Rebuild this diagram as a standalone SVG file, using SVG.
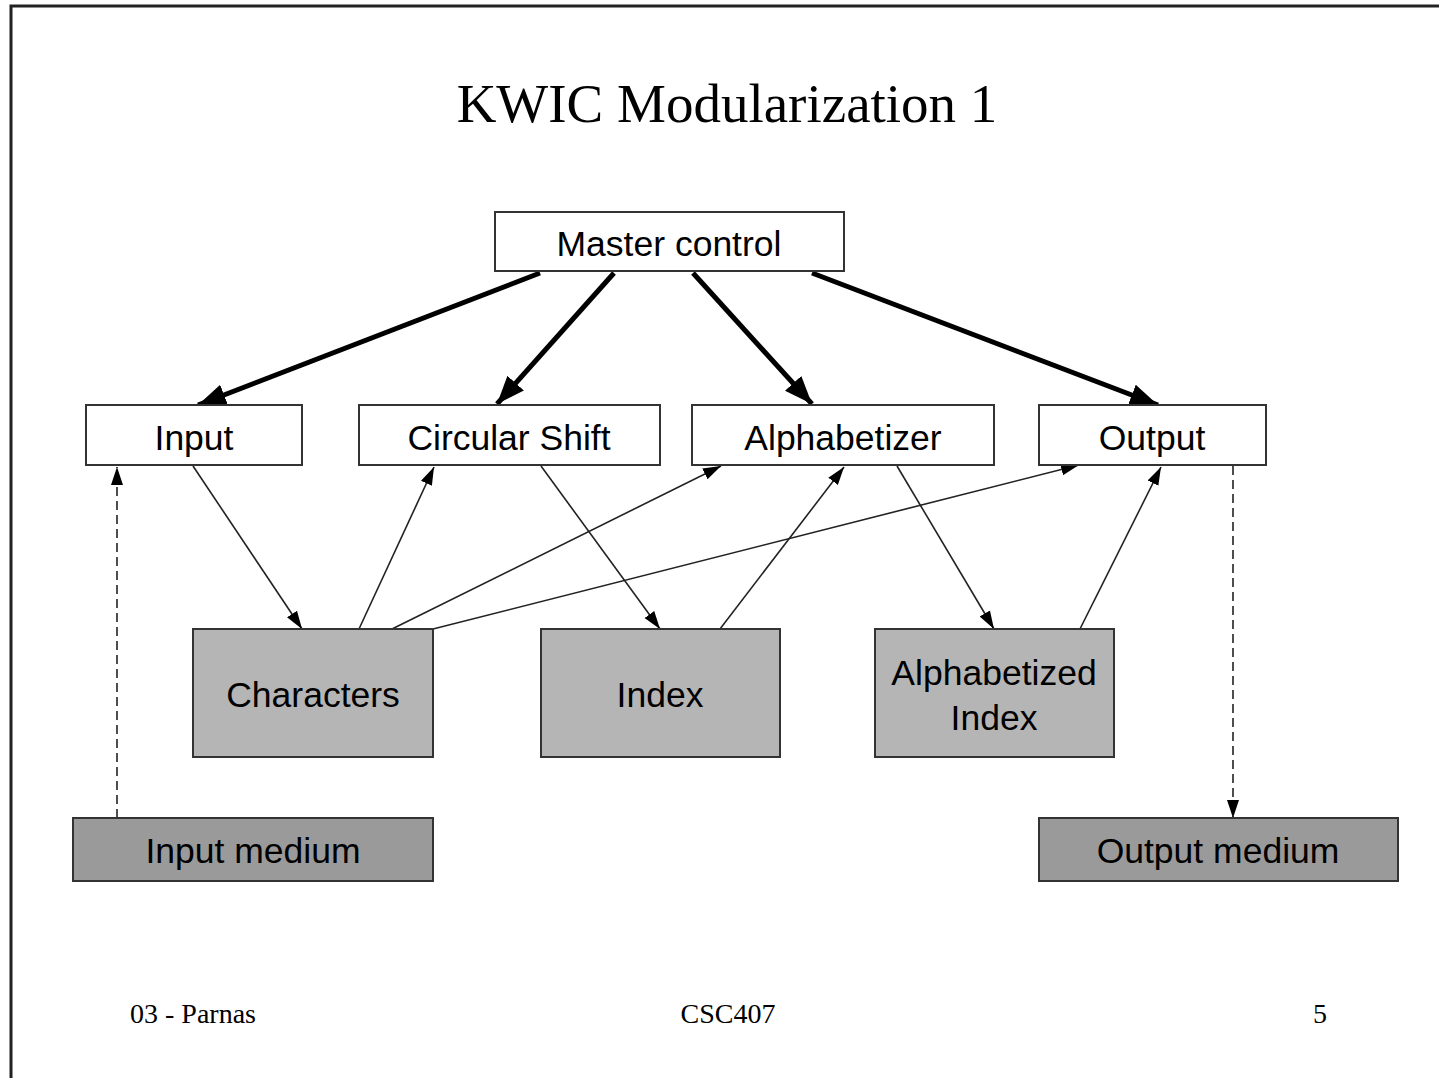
<svg xmlns="http://www.w3.org/2000/svg" width="1439" height="1078" viewBox="0 0 1439 1078">
<style>
.box{stroke:#333;stroke-width:2}
.w{fill:#fff}
.g1{fill:#b5b5b5}
.g2{fill:#9a9a9a}
.lbl{font-family:"Liberation Sans",Arial,sans-serif;font-size:35.5px;fill:#000;text-anchor:middle}
.ser{font-family:"Liberation Serif","Times New Roman",serif;fill:#000;text-anchor:middle}
.thick{stroke:#000;stroke-width:5;fill:none}
.thin{stroke:#222;stroke-width:1.6;fill:none}
.dash{stroke:#222;stroke-width:1.6;fill:none;stroke-dasharray:9,5}
</style>
<defs>
<marker id="big" markerUnits="userSpaceOnUse" markerWidth="30" markerHeight="30" viewBox="0 0 30 30" refX="28" refY="15" orient="auto">
<path d="M0,4 L28,15 L0,26 Z" fill="#000"/>
</marker>
<marker id="sm" markerUnits="userSpaceOnUse" markerWidth="20" markerHeight="16" viewBox="0 0 20 16" refX="18" refY="8" orient="auto">
<path d="M0,2 L18,8 L0,14 Z" fill="#000"/>
</marker>
</defs>
<rect width="1439" height="1078" fill="#fff"/>
<path d="M11,1078 L11,6 L1439,6" fill="none" stroke="#222" stroke-width="3"/>
<text class="ser" x="727" y="122" font-size="55">KWIC Modularization 1</text>

<g id="connectors">
<line class="thick" x1="540" y1="273" x2="198" y2="405" marker-end="url(#big)"/>
<line class="thick" x1="614" y1="273" x2="497" y2="404" marker-end="url(#big)"/>
<line class="thick" x1="693" y1="273" x2="812" y2="404" marker-end="url(#big)"/>
<line class="thick" x1="812" y1="273" x2="1158" y2="405" marker-end="url(#big)"/>
<line class="thin" x1="193" y1="466" x2="302" y2="629" marker-end="url(#sm)"/>
<line class="thin" x1="359" y1="629" x2="434" y2="467" marker-end="url(#sm)"/>
<line class="thin" x1="392" y1="629" x2="721" y2="466" marker-end="url(#sm)"/>
<line class="thin" x1="433" y1="629" x2="1079" y2="465" marker-end="url(#sm)"/>
<line class="thin" x1="541" y1="466" x2="660" y2="629" marker-end="url(#sm)"/>
<line class="thin" x1="720" y1="629" x2="844" y2="467" marker-end="url(#sm)"/>
<line class="thin" x1="897" y1="466" x2="994" y2="629" marker-end="url(#sm)"/>
<line class="thin" x1="1080" y1="629" x2="1161" y2="467" marker-end="url(#sm)"/>
<line class="dash" x1="117" y1="818" x2="117" y2="467" marker-end="url(#sm)"/>
<line class="dash" x1="1233" y1="466" x2="1233" y2="818" marker-end="url(#sm)"/>
</g>

<g id="master-control"><rect class="box w" x="495" y="212" width="349" height="59"/><text class="lbl" x="669" y="256">Master control</text></g>
<g id="input"><rect class="box w" x="86" y="405" width="216" height="60"/><text class="lbl" x="194" y="450">Input</text></g>
<g id="circular-shift"><rect class="box w" x="359" y="405" width="301" height="60"/><text class="lbl" x="509" y="450">Circular Shift</text></g>
<g id="alphabetizer"><rect class="box w" x="692" y="405" width="302" height="60"/><text class="lbl" x="843" y="450">Alphabetizer</text></g>
<g id="output"><rect class="box w" x="1039" y="405" width="227" height="60"/><text class="lbl" x="1152" y="450">Output</text></g>
<g id="characters"><rect class="box g1" x="193" y="629" width="240" height="128"/><text class="lbl" x="313" y="707">Characters</text></g>
<g id="index"><rect class="box g1" x="541" y="629" width="239" height="128"/><text class="lbl" x="660" y="707">Index</text></g>
<g id="alphabetized-index"><rect class="box g1" x="875" y="629" width="239" height="128"/><text class="lbl" x="994" y="685">Alphabetized</text><text class="lbl" x="994" y="730">Index</text></g>
<g id="input-medium"><rect class="box g2" x="73" y="818" width="360" height="63"/><text class="lbl" x="253" y="863">Input medium</text></g>
<g id="output-medium"><rect class="box g2" x="1039" y="818" width="359" height="63"/><text class="lbl" x="1218" y="863">Output medium</text></g>

<text class="ser" x="193" y="1023" font-size="28">03 - Parnas</text>
<text class="ser" x="728" y="1023" font-size="28">CSC407</text>
<text class="ser" x="1320" y="1023" font-size="28">5</text>
</svg>
